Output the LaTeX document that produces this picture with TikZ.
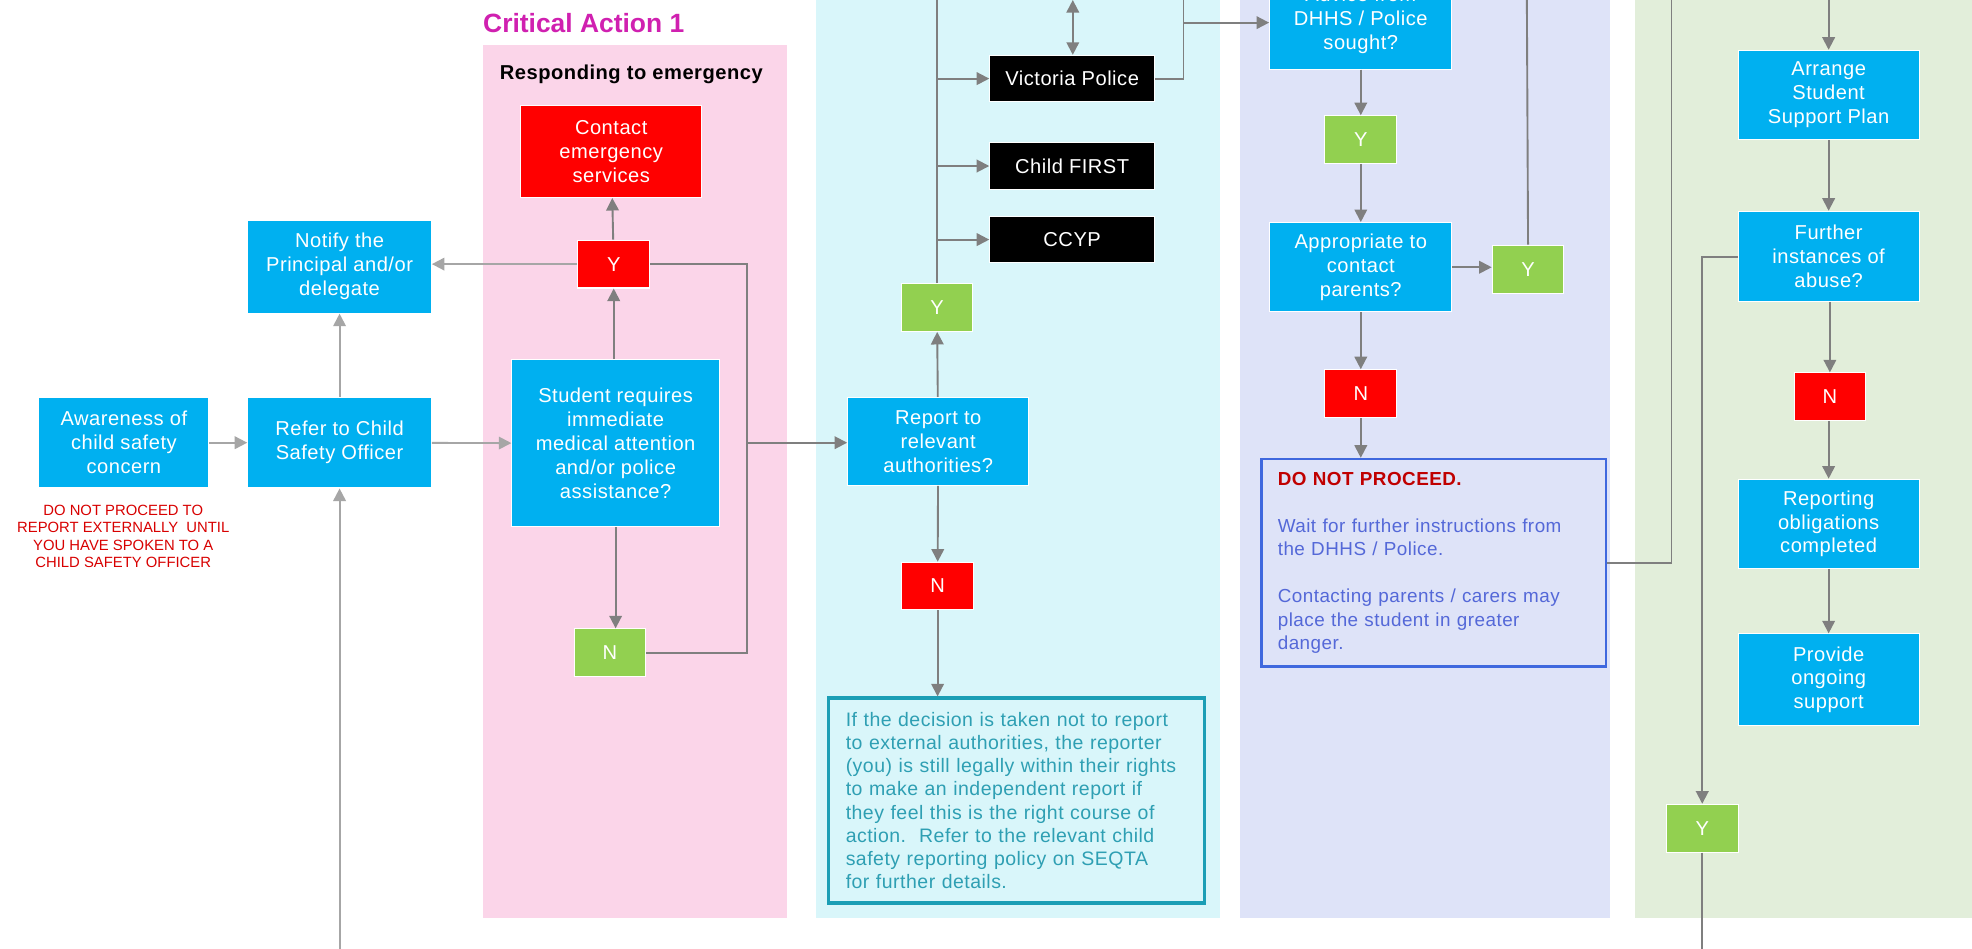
\documentclass[tikz,border=0pt]{standalone}
\usepackage{fontspec}
\setmainfont{Liberation Sans}
\newfontfamily\spacedfont[LetterSpace=2.5]{Liberation Sans}
\usetikzlibrary{arrows.meta}
\definecolor{cblue}{HTML}{00B0F0}
\definecolor{cred}{HTML}{FF0000}
\definecolor{cgreen}{HTML}{92D050}
\definecolor{cpink}{HTML}{FBD5E9}
\definecolor{ccyan}{HTML}{D9F6FA}
\definecolor{clav}{HTML}{DEE3F8}
\definecolor{cpanelg}{HTML}{E2EEDA}
\definecolor{cgray}{HTML}{7F7F7F}
\definecolor{clgray}{HTML}{A6A6A6}
\definecolor{cteal}{HTML}{1B9EB5}
\definecolor{ctealtext}{HTML}{2E9FB3}
\definecolor{croyal}{HTML}{3F68DE}
\definecolor{cbluetext}{HTML}{5468D8}
\definecolor{cdarkred}{HTML}{C00000}
\definecolor{cmagenta}{HTML}{D020B0}
\definecolor{cwarn}{HTML}{D80000}
\begin{document}
\begin{tikzpicture}[x=1pt,y=-1pt,
  boxbase/.style={draw=white, line width=0.8pt, text=white, align=center, inner sep=0pt,
    font=\spacedfont\fontsize{16}{19}\selectfont},
  bluebox/.style={boxbase, fill=cblue},
  redbox/.style={boxbase, fill=cred},
  greenbox/.style={boxbase, fill=cgreen, minimum width=57, minimum height=38},
  ynred/.style={boxbase, fill=cred, minimum width=57, minimum height=38},
  blackbox/.style={boxbase, fill=black, minimum width=131, minimum height=37},
  arr/.style={draw=cgray, line width=1.5pt, -{Triangle[length=10pt,width=10pt]}},
  arrL/.style={draw=clgray, line width=1.5pt, -{Triangle[length=10pt,width=10pt]}},
  dblarr/.style={draw=cgray, line width=1.5pt, {Triangle[length=10pt,width=10pt]}-{Triangle[length=10pt,width=10pt]}},
  ln/.style={draw=cgray, line width=1.5pt},
  lnL/.style={draw=clgray, line width=1.5pt},
]
\clip (0,0) rectangle (1568,754);
\fill[white] (0,0) rectangle (1568,754);
% panels
\fill[cpink] (384,36) rectangle (626,730);
\fill[ccyan] (649,-10) rectangle (970,730);
\fill[clav] (986,-10) rectangle (1280,730);
\fill[cpanelg] (1300,-10) rectangle (1575,730);

% titles
\node[anchor=west, text=cmagenta, font=\fontsize{21}{24}\selectfont\bfseries, inner sep=0pt] (catitle) at (384,18) {Critical Action 1};
\node[font=\spacedfont\fontsize{16}{19}\selectfont\bfseries, inner sep=0pt] (resp) at (502,59) {Responding to emergency};

% left column
\node[bluebox, minimum width=135, minimum height=72] (aware) at (98.5,352) {Awareness of\\child safety\\concern};
\node[text=cwarn, align=center, inner sep=0pt, font=\fontsize{11.8}{13.8}\selectfont] (warn) at (98,426.5)
  {DO NOT PROCEED TO\\REPORT EXTERNALLY\ \ UNTIL\\YOU HAVE SPOKEN TO A\\CHILD SAFETY OFFICER};
\node[bluebox, minimum width=146, minimum height=72] (refer) at (270,352) {Refer to Child\\Safety Officer};
\node[bluebox, minimum width=146, minimum height=74] (notify) at (270,212) {Notify the\\Principal and/or\\delegate};

% pink panel
\node[redbox, minimum width=144, minimum height=73] (contact) at (486,120.5) {Contact\\emergency\\services};
\node[ynred] (yred1) at (488,210) {Y};
\node[bluebox, minimum width=165, minimum height=133] (student) at (489.5,352.5) {Student requires\\immediate\\medical attention\\and/or police\\assistance?};
\node[greenbox] (ngreen1) at (485,519) {N};

% cyan panel
\node[bluebox, minimum width=144, minimum height=70] (report) at (746,351) {Report to\\relevant\\authorities?};
\node[greenbox] (ygreen2) at (745,244.5) {Y};
\node[ynred] (nred2) at (745.5,466) {N};
\node[draw=cteal, line width=2.5pt, text=ctealtext, align=left, text width=272, inner xsep=13.5, inner ysep=0pt,
  minimum height=163, font=\spacedfont\fontsize{15.5}{18.5}\selectfont] (note) at (808.5,636.5)
  {If the decision is taken not to report\\to external authorities, the reporter\\(you) is still legally\ within their rights\\to make\ an independent report if\\they feel this is the right course of\\action.\ \ Refer to the relevant child\\safety reporting policy on SEQTA\\for further details.};
\node[blackbox] (vicpol) at (852.5,62.5) {Victoria Police};
\node[blackbox] (childfirst) at (852.5,132) {Child FIRST};
\node[blackbox] (ccyp) at (852.5,190.5) {CCYP};

% lavender panel
\node[bluebox, minimum width=145, minimum height=78] (advice) at (1082,16) {Advice from\\DHHS\ / Police\\sought?};
\node[greenbox] (ygreen3) at (1082,111) {Y};
\node[bluebox, minimum width=145, minimum height=71] (approp) at (1082,212.5) {Appropriate to\\contact\\parents?};
\node[greenbox] (ygreen4) at (1215,214) {Y};
\node[ynred] (nred3) at (1082,313) {N};
\node[draw=croyal, fill=clav, line width=2pt, align=left, text width=248, inner xsep=13, inner ysep=0pt,
  minimum height=165, font=\spacedfont\fontsize{15}{18.7}\selectfont, text=cbluetext] (dnp) at (1140,447.5)
  {\textcolor{cdarkred}{\bfseries DO NOT PROCEED.}\\[18.7pt]Wait for further instructions from\\the DHHS\ / Police.\\[18.7pt]Contacting parents / carers may\\place the student in greater\\danger.};

% green panel
\node[bluebox, minimum width=144, minimum height=71] (arrange) at (1454,75.5) {Arrange\\Student\\Support Plan};
\node[bluebox, minimum width=144, minimum height=72] (further) at (1454,204) {Further\\instances of\\abuse?};
\node[ynred] (nred4) at (1455,315.5) {N};
\node[bluebox, minimum width=144, minimum height=71] (reporting) at (1454,416.5) {Reporting\\obligations\\completed};
\node[bluebox, minimum width=144, minimum height=73] (provide) at (1454,540.5) {Provide\\ongoing\\support};
\node[greenbox] (ygreen5) at (1353.5,658.5) {Y};

% free ends and junctions
\coordinate (botL) at (270,760);
\coordinate (j1) at (594,352);
\coordinate (topA) at (745,-10);
\coordinate (topB) at (853,0);
\coordinate (j2) at (941,18);
\coordinate (topC) at (941,-10);
\coordinate (topD) at (1214,-10);
\coordinate (topE) at (1329,-10);
\coordinate (topF) at (1454,-10);
\coordinate (botR) at (1353.5,760);

% connectors: left
\draw[arrL] (aware) -- (refer);
\draw[arrL] (refer) -- (notify);
\draw[arrL] (botL) -- (refer.south);
\draw[arrL] (refer) -- (student);
\draw[arrL] (yred1.west) -- (yred1.west -| notify.east);
% pink
\draw[arr] (student.north -| yred1) -- (yred1.south);
\draw[arr] (yred1) -- (contact);
\draw[arr] (student.south) -- (student.south |- ngreen1.north);
\draw[ln] (yred1.east) -| (j1);
\draw[ln] (ngreen1.east) -| (j1);
\draw[arr] (j1) -- (j1 -| report.west);
% cyan
\draw[arr] (report) -- (ygreen2);
\draw[arr] (report) -- (nred2);
\draw[arr] (nred2.south) -- (nred2.south |- note.north);
\draw[ln] (ygreen2.north) -- (topA);
\draw[arr] (vicpol.west -| ygreen2) -- (vicpol.west);
\draw[arr] (childfirst.west -| ygreen2) -- (childfirst.west);
\draw[arr] (ccyp.west -| ygreen2) -- (ccyp.west);
\draw[dblarr] (topB) -- (topB |- vicpol.north);
\draw[ln] (vicpol.east) -| (topC);
\draw[arr] (j2) -- (j2 -| advice.west);
% lavender
\draw[arr] (advice) -- (ygreen3);
\draw[arr] (ygreen3) -- (approp);
\draw[arr] (approp.east) -- (approp.east -| ygreen4.west);
\draw[ln] (ygreen4.north) -- (topD);
\draw[arr] (approp) -- (nred3);
\draw[arr] (nred3.south) -- (nred3.south |- dnp.north);
\draw[ln] (dnp.east) -| (topE);
% green
\draw[arr] (topF) -- (arrange.north);
\draw[arr] (arrange) -- (further);
\draw[arr] (further.south -| nred4) -- (nred4.north);
\draw[arr] (nred4.south -| reporting) -- (reporting.north);
\draw[arr] (reporting) -- (provide);
\draw[arr] (further.west) -| (ygreen5.north);
\draw[ln] (ygreen5.south) -- (botR);
\end{tikzpicture}
\end{document}
